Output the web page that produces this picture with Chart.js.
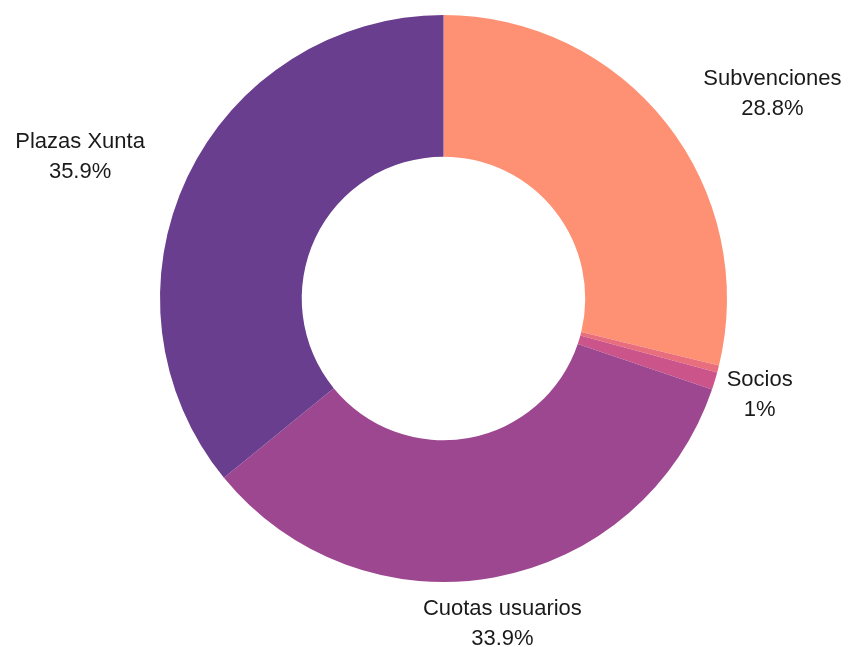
<!DOCTYPE html>
<html>
<head>
<meta charset="utf-8">
<script src="https://cdn.jsdelivr.net/npm/chart.js@4/dist/chart.umd.min.js"></script>
<style>
  html, body { margin: 0; padding: 0; background: #fff; }
  #wrap { width: 848px; height: 647px; }
</style>
</head>
<body>
<div id="wrap"><canvas id="pie"></canvas></div>
<script>
// Data
const categories = ['Subvenciones', 'Otros', 'Socios', 'Cuotas usuarios', 'Plazas Xunta'];
const shares = [28.8, 0.4, 1.0, 33.9, 35.9];
const shownLabels = [true, false, true, true, true];
const sliceColors = ['#FE9173', '#E96E7D', '#CB558A', '#9E4791', '#693E8F'];

// Draws the outside labels (name + percentage) for each slice
const outsideLabels = {
  id: 'outsideLabels',
  afterDatasetsDraw(chart) {
    const ctx = chart.ctx;
    const meta = chart.getDatasetMeta(0);
    ctx.save();
    ctx.font = '22px "Liberation Sans", Arial, sans-serif';
    ctx.fillStyle = '#1a1a1a';
    ctx.textBaseline = 'middle';
    ctx.textAlign = 'center';
    meta.data.forEach((arc, i) => {
      if (!shownLabels[i]) return;
      const mid = (arc.startAngle + arc.endAngle) / 2;
      const r = arc.outerRadius + 47;
      const x = arc.x + Math.cos(mid) * r;
      const y = arc.y + Math.sin(mid) * r;
      const lines = [categories[i], shares[i] + '%'];
      const w = Math.max(...lines.map(t => ctx.measureText(t).width));
      let left;
      if (y < arc.y) {
        // upper labels hang off to the side of their anchor
        left = Math.cos(mid) > 0 ? x : x - w;
      } else {
        left = x - w / 2;
      }
      ctx.fillText(lines[0], left + w / 2, y - 15);
      ctx.fillText(lines[1], left + w / 2, y + 15);
    });
    ctx.restore();
  }
};

new Chart(document.getElementById('pie'), {
  type: 'doughnut',
  data: {
    labels: categories,
    datasets: [{
      data: shares,
      backgroundColor: sliceColors,
      borderWidth: 0
    }]
  },
  options: {
    responsive: true,
    maintainAspectRatio: false,
    animation: false,
    cutout: '50%',
    layout: { padding: { top: 15, bottom: 65, left: 160, right: 121 } },
    plugins: {
      legend: { display: false },
      tooltip: { enabled: false }
    }
  },
  plugins: [outsideLabels]
});
</script>
</body>
</html>
